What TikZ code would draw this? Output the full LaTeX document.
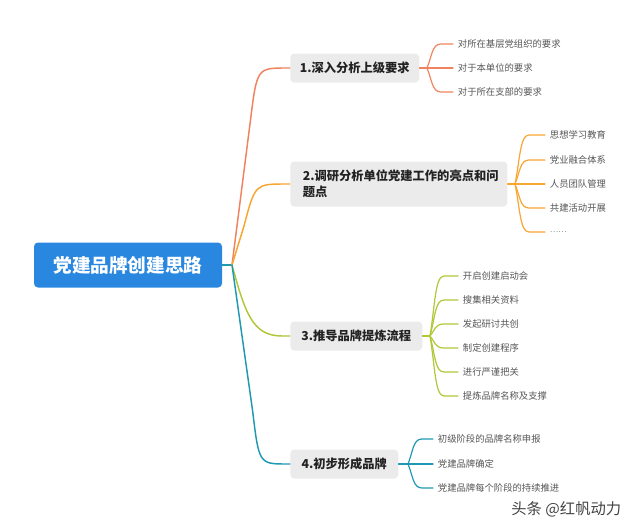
\documentclass[tikz,border=0pt]{standalone}
\usepackage{fontspec}
\setmainfont{Noto Sans CJK SC}
\usetikzlibrary{calc}
\definecolor{rootblue}{HTML}{2A87DF}
\definecolor{boxgray}{HTML}{EBEBEB}
\definecolor{ctA}{HTML}{F0825F}
\definecolor{ctB}{HTML}{F8A632}
\definecolor{ctC}{HTML}{AEC83A}
\definecolor{ctD}{HTML}{1F99B3}
\definecolor{leaftext}{HTML}{555555}
\definecolor{titletext}{HTML}{222222}
\tikzset{
  rootbox/.style={fill=rootblue, rounded corners=3pt, minimum width=141pt, minimum height=33.75pt,
    text=white, font=\bfseries\fontsize{14}{16}\selectfont, inner sep=0pt},
  topic/.style={fill=boxgray, rounded corners=3pt, minimum height=21.75pt, inner xsep=0pt,
    text=titletext, font=\bfseries\fontsize{9.2}{12}\selectfont, anchor=west},
  leaf/.style={anchor=west, inner xsep=3.5pt, inner ysep=1pt, text=leaftext,
    font=\fontsize{7}{8}\selectfont},
  mainline/.style={line width=1.1pt, line cap=round},
  subline/.style={line width=0.9pt, line cap=round},
  fan/.style={to path={.. controls ($(\tikztostart)!0.5!(\tikztostart|-\tikztotarget)+(5,0)$) and ($(\tikztostart|-\tikztotarget)+(5,0)$) .. ($(\tikztostart|-\tikztotarget)+(14,0)$) -- (\tikztotarget)}}
}
\begin{document}
\begin{tikzpicture}[x=0.75pt,y=-0.75pt]
\useasboundingbox (0,0) rectangle (640,532);
% root
\node[rootbox] (root) at (128,265) {党建品牌创建思路};
\coordinate (r0) at (232,265);
% topics
\node[topic, minimum width=96.75pt] (n1) at (290,68) {1.深入分析上级要求};
\node[topic, minimum height=33.75pt, inner xsep=9.4pt, text width=144pt, align=left] (n2) at (290,184) {2.调研分析单位党建工作的亮点和问\\题点};
\node[topic, minimum width=99pt] (n3) at (290,336) {3.推导品牌提炼流程};
\node[topic, minimum width=81pt] (n4) at (290,464) {4.初步形成品牌};
% main connectors
\draw[mainline, ctD] (root.east) -- (r0);
\draw[mainline, ctA] (r0) -- (250.5,120) .. controls (257,68) .. (287,68) -- (n1.west);
\draw[mainline, ctB] (r0) -- (244,226) .. controls (255,184) .. (286,184) -- (n2.west);
\draw[mainline, ctC] (r0) .. controls (245,312) and (252,336) .. (282,336) -- (n3.west);
\draw[mainline, ctD] (r0) -- (252.5,410) .. controls (259,464) .. (287,464) -- (n4.west);
% branch points
\coordinate (b1) at (427,68);
\coordinate (b2) at (515,184);
\coordinate (b3) at (430,336);
\coordinate (b4) at (408,464);
\draw[subline, ctA] (n1.east) -- (b1);
\draw[subline, ctB] (n2.east) -- (b2);
\draw[subline, ctC] (n3.east) -- (b3);
\draw[subline, ctD] (n4.east) -- (b4);
% leaves 1
\node[leaf] (c11) at (453,44) {对所在基层党组织的要求};
\node[leaf] (c12) at (453,68) {对于本单位的要求};
\node[leaf] (c13) at (453,92) {对于所在支部的要求};
\foreach \c in {c11,c12,c13} \draw[subline, ctA] (b1) to[fan] (\c.west);
% leaves 2
\node[leaf] (c21) at (545,135) {思想学习教育};
\node[leaf] (c22) at (545,160) {党业融合体系};
\node[leaf] (c23) at (545,184) {人员团队管理};
\node[leaf] (c24) at (545,208) {共建活动开展};
\node[leaf, text=leaftext!70, font=\fontsize{6}{7}\selectfont] (c25) at (545,232) {……};
\foreach \c in {c21,c22,c23,c24,c25} \draw[subline, ctB] (b2) to[fan] (\c.west);
% leaves 3
\node[leaf] (c31) at (458,276) {开启创建启动会};
\node[leaf] (c32) at (458,300) {搜集相关资料};
\node[leaf] (c33) at (458,324) {发起研讨共创};
\node[leaf] (c34) at (458,348) {制定创建程序};
\node[leaf] (c35) at (458,372) {进行严谨把关};
\node[leaf] (c36) at (458,396) {提炼品牌名称及支撑};
\foreach \c in {c31,c32,c33,c34,c35,c36} \draw[subline, ctC] (b3) to[fan] (\c.west);
% leaves 4
\node[leaf] (c41) at (433,439) {初级阶段的品牌名称申报};
\node[leaf] (c42) at (433,464) {党建品牌确定};
\node[leaf] (c43) at (433,488) {党建品牌每个阶段的持续推进};
\foreach \c in {c41,c42,c43} \draw[subline, ctD] (b4) to[fan] (\c.west);
% watermark
\node[text=titletext!85, font=\fontsize{11.5}{13}\selectfont, anchor=east] (wm) at (626,509) {头条 @红帆动力};
\end{tikzpicture}
\end{document}
